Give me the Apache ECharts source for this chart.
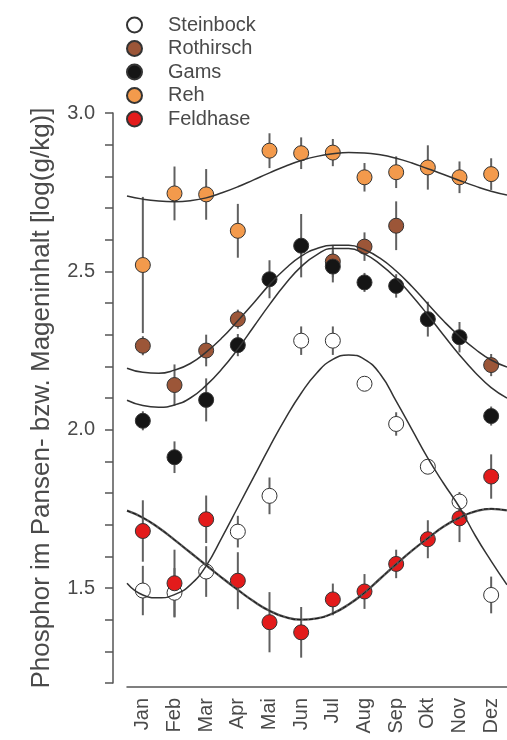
<!DOCTYPE html>
<html>
<head>
<meta charset="utf-8">
<script src="https://cdn.jsdelivr.net/npm/echarts@6/dist/echarts.min.js"></script>
<style>
  html, body { margin: 0; padding: 0; background: #fff; }
  #chart { width: 507px; height: 740px; }
</style>
</head>
<body>
<div id="chart"></div>
<script>
// month labels and positions
const months = ['Jan', 'Feb', 'Mar', 'Apr', 'Mai', 'Jun', 'Jul', 'Aug', 'Sep', 'Okt', 'Nov', 'Dez'];
const allMonths = [1, 2, 3, 4, 5, 6, 7, 8, 9, 10, 11, 12];

// measured means and error bars (+/-)
const steinbock = [1.492, 1.485, 1.552, 1.678, 1.791, 2.281, 2.281, 2.145, 2.018, 1.883, 1.773, 1.478];
const steinbockErr = [0.078, 0.078, 0.08, 0.05, 0.058, 0.045, 0.045, 0.015, 0.037, 0.02, 0.03, 0.058];

const rothirschMonths = [1, 2, 3, 4, 7, 8, 9, 12];
const rothirsch = [2.265, 2.141, 2.250, 2.349, 2.531, 2.578, 2.644, 2.204];
const rothirschErr = [0.03, 0.065, 0.05, 0.03, 0.05, 0.045, 0.077, 0.035];

const gams = [2.028, 1.913, 2.094, 2.267, 2.475, 2.581, 2.515, 2.465, 2.454, 2.349, 2.292, 2.043];
const gamsErr = [0.03, 0.05, 0.068, 0.035, 0.06, 0.1, 0.05, 0.03, 0.037, 0.055, 0.048, 0.03];

const reh = [2.520, 2.746, 2.743, 2.628, 2.881, 2.873, 2.875, 2.797, 2.813, 2.828, 2.797, 2.807];
const rehErr = [0.215, 0.085, 0.08, 0.085, 0.055, 0.05, 0.043, 0.045, 0.05, 0.07, 0.05, 0.05];

const feldhase = [1.680, 1.515, 1.717, 1.523, 1.392, 1.360, 1.464, 1.489, 1.576, 1.654, 1.720, 1.852];
const feldhaseErr = [0.097, 0.106, 0.075, 0.09, 0.095, 0.08, 0.05, 0.055, 0.045, 0.06, 0.075, 0.07];

const curveMonths = [0.5, 1, 1.5, 2, 2.5, 3, 3.5, 4, 4.5, 5, 5.5, 6, 6.5, 7, 7.5, 8, 8.5, 9, 9.5, 10, 10.5, 11, 11.5, 12, 12.5];
const rehCurve = [2.738, 2.728, 2.722, 2.720, 2.723, 2.732, 2.748, 2.767, 2.789, 2.811, 2.832, 2.850, 2.863,
  2.871, 2.875, 2.874, 2.868, 2.857, 2.842, 2.824, 2.806, 2.787, 2.769, 2.753, 2.741];
const rothirschCurve = [2.194, 2.181, 2.178, 2.188, 2.209, 2.245, 2.290, 2.344, 2.400, 2.458, 2.508, 2.548, 2.572,
  2.582, 2.582, 2.568, 2.541, 2.501, 2.452, 2.397, 2.343, 2.295, 2.254, 2.220, 2.198];
const gamsCurve = [2.093, 2.076, 2.071, 2.078, 2.100, 2.140, 2.192, 2.255, 2.325, 2.395, 2.460, 2.515, 2.553,
  2.572, 2.572, 2.555, 2.522, 2.478, 2.423, 2.362, 2.298, 2.236, 2.180, 2.133, 2.100];
const steinbockCurve = [1.515, 1.478, 1.469, 1.479, 1.510, 1.570, 1.660, 1.755, 1.850, 1.945, 2.035, 2.115, 2.180,
  2.222, 2.236, 2.222, 2.175, 2.090, 2.000, 1.910, 1.830, 1.755, 1.665, 1.585, 1.510];
const feldhaseCurve = [1.744, 1.722, 1.690, 1.652, 1.612, 1.572, 1.532, 1.494, 1.458, 1.428, 1.408, 1.400, 1.404,
  1.420, 1.448, 1.485, 1.530, 1.575, 1.618, 1.657, 1.694, 1.722, 1.742, 1.750, 1.745];

const font = 'Liberation Sans, Arial, sans-serif';
const axisColor = '#555';
const textColor = '#4a4a4a';

function pairs(xs, ys) {
  return xs.map((x, i) => [x, ys[i]]);
}

function errorBars(xs, vals, errs) {
  return {
    type: 'custom',
    xAxisIndex: 1,
    z: 1,
    silent: true,
    data: xs.map((x, i) => [x, vals[i] - errs[i], vals[i] + errs[i]]),
    encode: { x: 0, y: [1, 2] },
    renderItem: function (params, api) {
      const lo = api.coord([api.value(0), api.value(1)]);
      const hi = api.coord([api.value(0), api.value(2)]);
      return {
        type: 'line',
        shape: { x1: lo[0], y1: lo[1], x2: hi[0], y2: hi[1] },
        style: { stroke: '#606060', lineWidth: 2 }
      };
    }
  };
}

function dots(name, xs, ys, color) {
  return {
    name: name,
    type: 'scatter',
    xAxisIndex: 1,
    z: 2,
    symbol: 'circle',
    symbolSize: 15,
    data: pairs(xs, ys),
    itemStyle: { color: color, borderColor: '#333', borderWidth: 1, opacity: 1 }
  };
}

function curve(ys, style) {
  return {
    type: 'line',
    xAxisIndex: 1,
    z: 3,
    silent: true,
    smooth: true,
    symbol: 'none',
    data: pairs(curveMonths, ys),
    lineStyle: Object.assign({ color: '#333', width: 1.5 }, style || {})
  };
}

const chart = echarts.init(document.getElementById('chart'));
chart.setOption({
  animation: false,
  backgroundColor: '#fff',
  legend: {
    data: ['Steinbock', 'Rothirsch', 'Gams', 'Reh', 'Feldhase'],
    orient: 'vertical',
    left: 126,
    top: 15,
    padding: 0,
    itemWidth: 15,
    itemHeight: 15,
    itemGap: 3.5,
    textStyle: { fontSize: 20, color: textColor, fontFamily: font, padding: [0, 0, 0, 21] }
  },
  grid: { left: 127, top: 113, width: 391, height: 570 },
  xAxis: [
    {
      type: 'category',
      data: months,
      offset: 4,
      boundaryGap: true,
      axisLine: { lineStyle: { color: axisColor, width: 1.5 } },
      axisTick: { length: 7, lineStyle: { color: axisColor, width: 1.5 } },
      axisLabel: { rotate: 90, fontSize: 20, color: textColor, fontFamily: font, margin: 11 }
    },
    { type: 'value', min: 0.5, max: 12.5, show: false }
  ],
  yAxis: {
    type: 'value',
    min: 1.2,
    max: 3.0,
    interval: 0.1,
    offset: 14,
    splitLine: { show: false },
    axisLine: { show: true, lineStyle: { color: axisColor, width: 1.5 } },
    axisTick: { show: true, length: 8, lineStyle: { color: axisColor, width: 1.5 } },
    axisLabel: {
      fontSize: 20,
      color: textColor,
      fontFamily: font,
      margin: 18,
      formatter: function (v) {
        return Math.abs(v * 2 - Math.round(v * 2)) < 1e-6 ? v.toFixed(1) : '';
      }
    },
    name: 'Phosphor im Pansen- bzw. Mageninhalt [log(g/kg)]',
    nameLocation: 'middle',
    nameGap: 58,
    nameTextStyle: { fontSize: 26, color: textColor, fontFamily: font }
  },
  series: [
    errorBars(allMonths, steinbock, steinbockErr),
    errorBars(rothirschMonths, rothirsch, rothirschErr),
    errorBars(allMonths, gams, gamsErr),
    errorBars(allMonths, reh, rehErr),
    errorBars(allMonths, feldhase, feldhaseErr),
    dots('Steinbock', allMonths, steinbock, '#ffffff'),
    dots('Rothirsch', rothirschMonths, rothirsch, '#9c5638'),
    dots('Gams', allMonths, gams, '#151515'),
    dots('Reh', allMonths, reh, '#f39a4c'),
    dots('Feldhase', allMonths, feldhase, '#e31b1b'),
    curve(rehCurve),
    curve(rothirschCurve),
    curve(gamsCurve),
    curve(steinbockCurve),
    curve(feldhaseCurve, { color: '#555', width: 2.4 }),
    curve(feldhaseCurve, { color: '#111', width: 1, type: [4, 2] })
  ]
});
</script>
</body>
</html>
